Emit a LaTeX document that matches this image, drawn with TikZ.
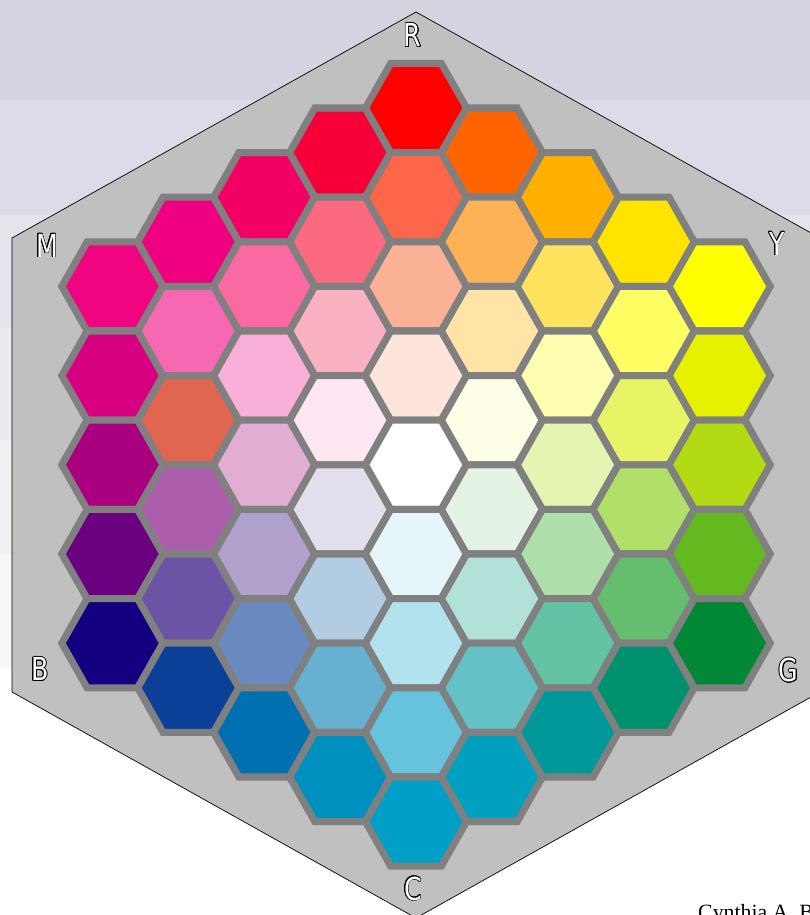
\documentclass[tikz,border=0pt]{standalone}
\usepackage{fontspec}
\usepackage[copies]{contour}
\usepackage{tikz}
\usetikzlibrary{positioning}
\newfontfamily\lblfont[FakeStretch=0.8]{DejaVu Sans}
\newfontfamily\creditfont{Liberation Serif}
\definecolor{HexGray}{HTML}{808080}
\definecolor{FrameGray}{HTML}{C0C0C0}
\contourlength{0.6pt}

\tikzset{
  cell/.style={draw=HexGray, line width=6pt},
  corner/.style={font=\lblfont\fontsize{27}{30}\selectfont, inner sep=0pt},
}

\begin{document}
\begin{tikzpicture}[x=0.03cm, y=-0.03cm]
  \useasboundingbox (0,0) rectangle (810,915);
  % background bands
  \foreach \ya/\yb/\tone in {0/100/D4D4E0, 100/215/DCDCE8, 215/328/E4E4EC, 328/440/EAEAF0, 440/555/F0F0F5, 555/668/F7F7FA}
    {\definecolor{band}{HTML}{\tone}\fill[band] (0,\ya) rectangle (810,\yb);}
  % outer frame
  \coordinate (r) at (416,12);
  \coordinate (y) at (820,238);
  \coordinate (g) at (820,692);
  \coordinate (c) at (416,918);
  \coordinate (b) at (12,692);
  \coordinate (m) at (12,238);
  \filldraw[fill=FrameGray, draw=black, line width=0.6pt] (r) -- (y) -- (g) -- (c) -- (b) -- (m) -- cycle;
  % colour cells, column by column
  \foreach \q/\cols in {
      -4/{F00480,D60080,AA0080,6B0080,120080},
      -3/{EE0080,F768B2,E0664F,AD5EAA,6B53A5,0B3F98},
      -2/{F20063,F96AA3,F9B0D8,E1ADD3,B0A0CC,6A8BC0,0070B0},
      -1/{F70038,FB6A7F,FAB1C2,FEE6F3,E3DEEC,B2CCE2,66B0D1,0090C0},
      0/{FF0000,FE6649,FAB195,FEE5DC,FFFFFF,E6F5FA,B1E2ED,65C3DD,009FC7},
      1/{FE6400,FDB256,FFE3A7,FFFFE7,E4F3E3,B1E1D9,64C2C7,00A0BE},
      2/{FFB000,FFE35E,FEFEB0,E4F4B1,B0E0AA,64C2A5,009898},
      3/{FFE400,FFFF64,E6F466,B1E06A,65BE6D,00926F},
      4/{FFFF00,E6F100,B2DB13,64B820,008837}}
    \foreach \c [count=\k from 0] in \cols {
      \pgfmathsetmacro\cx{416+75.9*\q}
      \pgfmathsetmacro\cy{108+44.6*abs(\q)+89.2*\k}
      \definecolor{cellfill}{HTML}{\c}
      \draw[cell, fill=cellfill, shift={(\cx,\cy)}] (-50.6,0) -- (-25.3,-44.6) -- (25.3,-44.6)
        -- (50.6,0) -- (25.3,44.6) -- (-25.3,44.6) -- cycle;
    }
  % corner letters
  \node[corner] (lblR) at (412.5,35.5) {\contour{black}{\textcolor{white}{R}}};
  \node[corner] (lblY) at (777,244) {\contour{black}{\textcolor{white}{Y}}};
  \node[corner] (lblG) at (788.5,670.5) {\contour{black}{\textcolor{white}{G}}};
  \node[corner] (lblC) at (413,889) {\contour{black}{\textcolor{white}{C}}};
  \node[corner] (lblB) at (40,669.5) {\contour{black}{\textcolor{white}{B}}};
  \node[corner] (lblM) at (47,246) {\contour{black}{\textcolor{white}{M}}};
  \node[anchor=base west, inner sep=0pt, font=\creditfont\fontsize{18.6}{20}\selectfont] (credit) at (698,919) {Cynthia A. B};
\end{tikzpicture}
\end{document}
